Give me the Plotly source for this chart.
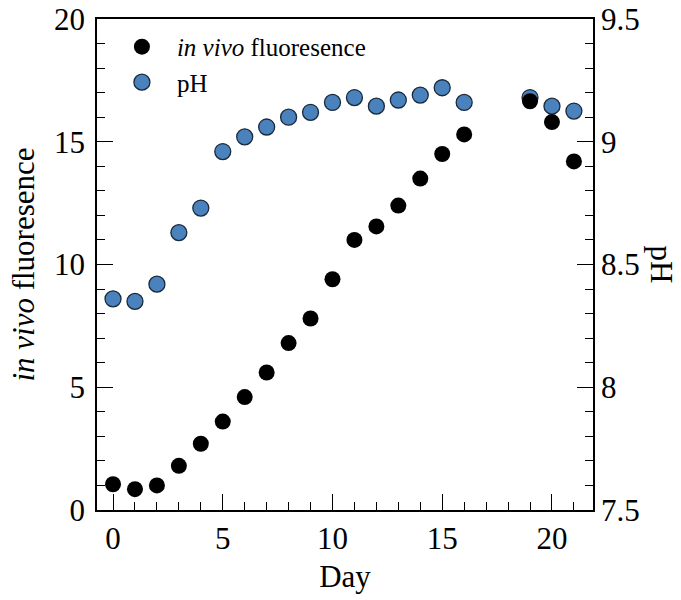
import plotly.graph_objects as go

days = [0, 1, 2, 3, 4, 5, 6, 7, 8, 9, 10, 11, 12, 13, 14, 15, 16, 19, 20, 21]
fluorescence = [1.05, 0.85, 1.0, 1.8, 2.7, 3.6, 4.6, 5.6, 6.8, 7.8, 9.4,
                11.0, 11.55, 12.4, 13.5, 14.5, 15.3, 16.65, 15.8, 14.2]
ph = [8.36, 8.35, 8.42, 8.63, 8.73, 8.96, 9.02, 9.06, 9.10, 9.12, 9.16,
      9.18, 9.145, 9.17, 9.19, 9.22, 9.16, 9.18, 9.145, 9.125]

FONT = "Liberation Serif, Times New Roman, serif"
BLUE = "#4a82bd"
FS = 31

fig = go.Figure()
fig.add_trace(go.Scatter(
    x=days, y=ph, mode="markers", name="pH", yaxis="y", legendrank=2,
    marker=dict(size=16, color=BLUE, line=dict(color="#1a2a3a", width=1.3)),
))
fig.add_trace(go.Scatter(
    x=days, y=fluorescence, mode="markers", name="<i>in vivo</i> fluoresence",
    yaxis="y2", legendrank=1,
    marker=dict(size=16, color="black"),
))

fig.update_layout(
    width=681, height=600,
    margin=dict(l=97, r=88, t=19, b=90),
    paper_bgcolor="white", plot_bgcolor="white",
    font=dict(family=FONT, size=FS, color="black"),
    showlegend=True,
    legend=dict(x=0.02, y=0.99, xanchor="left", yanchor="top",
                font=dict(family=FONT, size=25), bgcolor="rgba(0,0,0,0)",
                itemwidth=60, tracegroupgap=0),
    xaxis=dict(
        range=[-0.73, 21.87], dtick=5, tick0=0, automargin=False,
        ticks="inside", ticklen=16, tickwidth=1.3, tickcolor="black",
        minor=dict(ticks="inside", dtick=1, ticklen=8, tickwidth=1.3, tickcolor="black"),
        showline=True, linecolor="black", linewidth=1.5, mirror=True,
        showgrid=False, zeroline=False,
        title=dict(text="Day", font=dict(family=FONT, size=FS), standoff=10),
        tickfont=dict(family=FONT, size=FS),
    ),
    yaxis=dict(
        range=[7.5, 9.5], dtick=0.5, tick0=7.5, side="right", automargin=False,
        ticks="inside", ticklen=16, tickwidth=1.3, tickcolor="black",
        minor=dict(ticks="inside", dtick=0.1, ticklen=8, tickwidth=1.3, tickcolor="black"),
        showline=True, linecolor="black", linewidth=1.5,
        showgrid=False, zeroline=False,
        tickfont=dict(family=FONT, size=FS),
    ),
    yaxis2=dict(
        range=[0, 20], dtick=5, tick0=0, side="left", overlaying="y", automargin=False,
        ticks="inside", ticklen=16, tickwidth=1.3, tickcolor="black",
        minor=dict(ticks="inside", dtick=1, ticklen=8, tickwidth=1.3, tickcolor="black"),
        showline=True, linecolor="black", linewidth=1.5,
        showgrid=False, zeroline=False, ticklabelstandoff=4,
        title=dict(text="<i>in vivo</i> fluoresence", font=dict(family=FONT, size=FS), standoff=10),
        tickfont=dict(family=FONT, size=FS),
    ),
    annotations=[dict(
        text="pH", xref="paper", yref="paper", x=1.139, y=0.5,
        showarrow=False, textangle=90, font=dict(family=FONT, size=FS),
        xanchor="center", yanchor="middle",
    )],
)

fig.write_html("out.html")
